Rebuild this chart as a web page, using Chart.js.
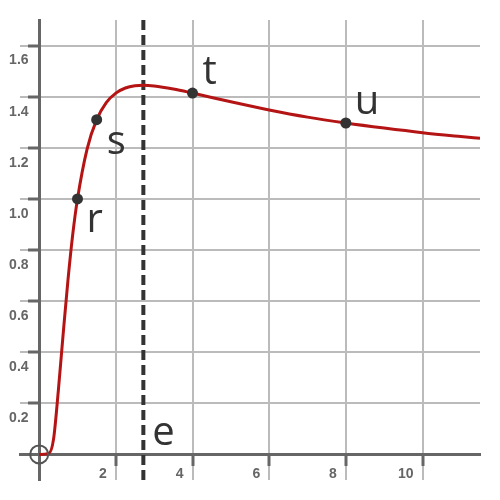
<!DOCTYPE html>
<html>
<head>
  <title>x^(1/x)</title>
  <script src="https://cdn.jsdelivr.net/npm/chart.js"></script>
  <style>
    body { margin: 0; background: #fff; }
  </style>
</head>
<body>
  <canvas id="chart" width="500" height="500"></canvas>

  <script>
    // curve values
    const curveX = [0, 0.25, 0.375, 0.5, 0.625, 0.75, 0.875, 1, 1.25, 1.5, 1.75, 2, 2.25, 2.5, 2.72, 3, 3.5, 4, 5, 6, 7, 8, 9, 10, 11, 11.5];
    const curveY = [0, 0.004, 0.06, 0.25, 0.47, 0.68, 0.86, 1.0, 1.195, 1.31, 1.377, 1.414, 1.434, 1.443, 1.445, 1.442, 1.43, 1.414, 1.38, 1.348, 1.32, 1.297, 1.277, 1.259, 1.244, 1.237];

    const markNames = ['r', 's', 't', 'u'];
    const markX = [1, 1.5, 4, 8];
    const markY = [1.0, 1.31, 1.414, 1.297];

    const eValue = 2.718;
    const xTicks = [2, 4, 6, 8, 10];
    const yTicks = [0.2, 0.4, 0.6, 0.8, 1.0, 1.2, 1.4, 1.6];

    // label offsets in px from their anchor point
    const labelOffsets = { r: [9, 33], s: [10, 34], t: [10, -9], u: [9, -9], e: [9, -9] };

    const ctx = document.getElementById('chart').getContext('2d');

    const letterPlugin = {
      id: 'letters',
      afterDatasetsDraw(chart) {
        const c = chart.ctx;
        const xs = chart.scales.x, ys = chart.scales.y;
        c.save();
        c.font = '40px "Open Sans"';
        c.fillStyle = '#333';
        c.textAlign = 'left';
        c.textBaseline = 'alphabetic';
        markNames.forEach((n, i) => {
          const o = labelOffsets[n];
          c.fillText(n, xs.getPixelForValue(markX[i]) + o[0], ys.getPixelForValue(markY[i]) + o[1]);
        });
        const o = labelOffsets.e;
        c.fillText('e', xs.getPixelForValue(eValue) + o[0], ys.getPixelForValue(0) + o[1]);
        c.restore();
      }
    };

    const tickFont = { family: '"Liberation Sans", Arial, sans-serif', size: 14, weight: 'bold' };

    new Chart(ctx, {
      type: 'scatter',
      data: {
        datasets: [
          {
            label: 'origin',
            data: [{ x: 0, y: 0 }],
            pointRadius: 9,
            pointBorderWidth: 2,
            pointBorderColor: '#555',
            pointBackgroundColor: 'rgba(0,0,0,0)',
            order: 0
          },
          {
            label: 'marks',
            data: markX.map((x, i) => ({ x: x, y: markY[i] })),
            pointRadius: 5.5,
            pointBackgroundColor: '#333',
            pointBorderWidth: 0,
            order: 1
          },
          {
            label: 'curve',
            data: curveX.map((x, i) => ({ x: x, y: curveY[i] })),
            showLine: true,
            borderColor: '#b51414',
            borderWidth: 3,
            pointRadius: 0,
            cubicInterpolationMode: 'monotone',
            order: 2
          },
          {
            label: 'e',
            data: [{ x: eValue, y: -0.1 }, { x: eValue, y: 1.7 }],
            showLine: true,
            borderColor: '#333',
            borderWidth: 4,
            borderDash: [10, 5],
            pointRadius: 0,
            order: 3
          }
        ]
      },
      options: {
        responsive: false,
        animation: false,
        layout: { padding: 20 },
        plugins: { legend: { display: false }, tooltip: { enabled: false } },
        scales: {
          x: {
            type: 'linear',
            min: -0.5,
            max: 11.5,
            position: { y: 0 },
            afterBuildTicks: (s) => { s.ticks = xTicks.map(v => ({ value: v })); },
            grid: { color: '#bbb', lineWidth: 2, tickLength: 10, tickColor: '#666', tickWidth: 3 },
            border: { color: '#666', width: 3 },
            ticks: { align: 'end', labelOffset: -9, padding: 1, color: '#666', font: tickFont, maxRotation: 0 }
          },
          y: {
            type: 'linear',
            min: -0.1,
            max: 1.7,
            position: { x: 0 },
            afterBuildTicks: (s) => { s.ticks = yTicks.map(v => ({ value: v })); },
            grid: { color: '#bbb', lineWidth: 2, tickLength: 10, tickColor: '#666', tickWidth: 3 },
            border: { color: '#666', width: 3 },
            // labels of an axis placed at x=0 sit flush on it, trailing spaces push them left
            ticks: { labelOffset: 15, color: '#666', font: tickFont, callback: (v) => v.toFixed(1) + '  \u2009' }
          }
        }
      },
      plugins: [letterPlugin]
    });
  </script>
</body>
</html>
